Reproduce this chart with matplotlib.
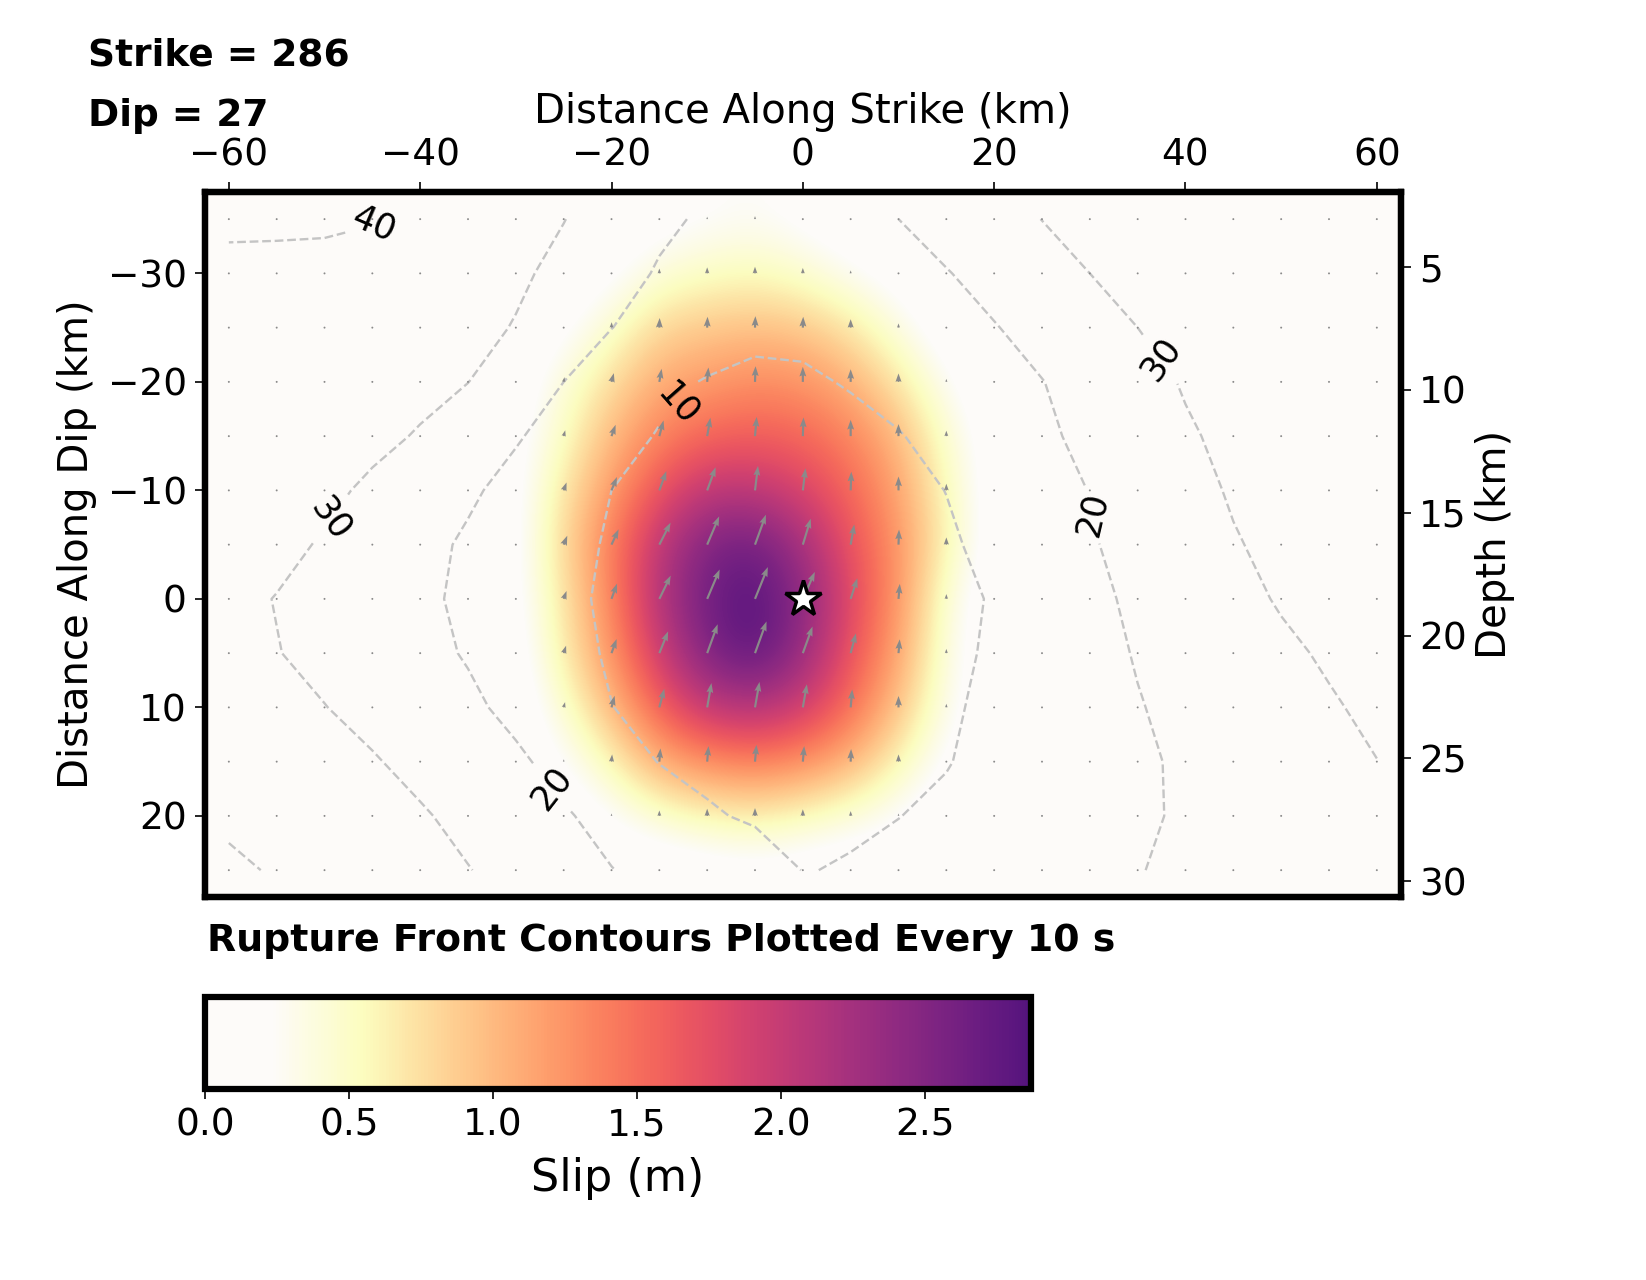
import numpy as np
import matplotlib
matplotlib.use('Agg')
import matplotlib.pyplot as plt
from matplotlib.colors import LinearSegmentedColormap

# fault geometry
strike = 286
dip = 27
along_strike = np.arange(-60, 61, 5)      # km, subfault centres
along_dip = np.arange(-35, 26, 5)         # km, subfault centres
depth_top, depth_bottom = 1.94, 30.65     # depth at the top / bottom edge of the fault
hypo = (0.0, 0.0)

# slip (m), rows = along dip (-35 .. 25), cols = along strike (-60 .. 60)
slip = np.array([
    [0, 0, 0, 0, 0, 0, 0, 0, 0.05, 0.12, 0.2, 0.25, 0.15, 0.05, 0, 0, 0, 0, 0, 0, 0, 0, 0, 0, 0],
    [0, 0, 0, 0, 0, 0, 0, 0.05, 0.15, 0.4, 0.5, 0.55, 0.45, 0.25, 0.1, 0, 0, 0, 0, 0, 0, 0, 0, 0, 0],
    [0, 0, 0, 0, 0, 0, 0, 0.15, 0.45, 0.8, 0.9, 0.95, 0.9, 0.7, 0.35, 0.05, 0, 0, 0, 0, 0, 0, 0, 0, 0],
    [0, 0, 0, 0, 0, 0, 0.05, 0.4, 0.75, 1.1, 1.2, 1.3, 1.25, 1.05, 0.7, 0.25, 0, 0, 0, 0, 0, 0, 0, 0, 0],
    [0, 0, 0, 0, 0, 0, 0.1, 0.5, 1.0, 1.35, 1.55, 1.6, 1.55, 1.35, 1.0, 0.45, 0.05, 0, 0, 0, 0, 0, 0, 0, 0],
    [0, 0, 0, 0, 0, 0, 0.1, 0.7, 1.2, 1.7, 2.05, 2.05, 1.85, 1.55, 1.15, 0.55, 0.05, 0, 0, 0, 0, 0, 0, 0, 0],
    [0, 0, 0, 0, 0, 0, 0.1, 0.8, 1.4, 2.05, 2.55, 2.65, 2.25, 1.7, 1.25, 0.6, 0.05, 0, 0, 0, 0, 0, 0, 0, 0],
    [0, 0, 0, 0, 0, 0, 0.1, 0.7, 1.35, 2.15, 2.65, 2.85, 2.45, 1.8, 1.25, 0.4, 0, 0, 0, 0, 0, 0, 0, 0, 0],
    [0, 0, 0, 0, 0, 0, 0.05, 0.65, 1.25, 1.95, 2.55, 2.8, 2.35, 1.7, 1.15, 0.35, 0, 0, 0, 0, 0, 0, 0, 0, 0],
    [0, 0, 0, 0, 0, 0, 0, 0.45, 1.0, 1.6, 2.05, 2.15, 1.95, 1.5, 0.95, 0.3, 0, 0, 0, 0, 0, 0, 0, 0, 0],
    [0, 0, 0, 0, 0, 0, 0, 0.2, 0.6, 1.1, 1.3, 1.4, 1.3, 1.05, 0.6, 0.15, 0, 0, 0, 0, 0, 0, 0, 0, 0],
    [0, 0, 0, 0, 0, 0, 0, 0, 0.2, 0.45, 0.6, 0.65, 0.55, 0.4, 0.2, 0, 0, 0, 0, 0, 0, 0, 0, 0, 0],
    [0, 0, 0, 0, 0, 0, 0, 0, 0, 0, 0.05, 0.1, 0.05, 0, 0, 0, 0, 0, 0, 0, 0, 0, 0, 0, 0],
])

# rake (deg)
rake = np.array([
    [90] * 25,
    [90] * 25,
    [90, 90, 90, 90, 90, 90, 90, 90, 88, 88, 88, 88, 88, 90, 90, 90, 90, 90, 90, 90, 90, 90, 90, 90, 90],
    [90, 90, 90, 90, 90, 90, 90, 80, 75, 80, 85, 88, 90, 90, 90, 90, 90, 90, 90, 90, 90, 90, 90, 90, 90],
    [90, 90, 90, 90, 90, 90, 90, 75, 70, 75, 80, 85, 88, 90, 90, 90, 90, 90, 90, 90, 90, 90, 90, 90, 90],
    [90, 90, 90, 90, 90, 90, 90, 70, 68, 70, 70, 83, 83, 88, 90, 90, 90, 90, 90, 90, 90, 90, 90, 90, 90],
    [90, 90, 90, 90, 90, 90, 90, 68, 65, 63, 67, 70, 73, 80, 88, 90, 90, 90, 90, 90, 90, 90, 90, 90, 90],
    [90, 90, 90, 90, 90, 90, 90, 70, 70, 64, 67, 68, 66, 72, 85, 90, 90, 90, 90, 90, 90, 90, 90, 90, 90],
    [90, 90, 90, 90, 90, 90, 90, 72, 70, 68, 70, 70, 70, 75, 85, 90, 90, 90, 90, 90, 90, 90, 90, 90, 90],
    [90, 90, 90, 90, 90, 90, 90, 75, 75, 75, 80, 80, 80, 85, 90, 90, 90, 90, 90, 90, 90, 90, 90, 90, 90],
    [90, 90, 90, 90, 90, 90, 90, 85, 85, 85, 85, 85, 85, 88, 90, 90, 90, 90, 90, 90, 90, 90, 90, 90, 90],
    [90] * 25,
    [90] * 25,
])

# rupture time (s)
rupture_time = np.array([
    [41.5, 41.0, 40.8, 40.2, 38.9, 36.0, 33.1, 30.2, 26.0, 21.5, 18.9, 17.2, 15.5, 17.7, 20.0, 23.4, 26.8, 30.1, 33.0, 35.5, 37.5, 39.0, 39.5, 39.8, 39.9],
    [38.0, 38.5, 38.5, 38.5, 37.5, 34.5, 31.5, 27.7, 23.1, 19.3, 17.2, 15.1, 13.0, 15.2, 17.4, 19.6, 22.9, 26.4, 30.0, 32.5, 34.5, 36.0, 37.0, 37.5, 38.0],
    [37.5, 37.5, 37.5, 37.0, 35.3, 32.7, 29.5, 24.8, 20.1, 17.2, 14.4, 11.6, 11.7, 13.7, 15.7, 17.7, 19.6, 22.9, 26.5, 30.0, 32.5, 34.5, 35.5, 36.0, 36.5],
    [37.0, 36.5, 36.0, 35.0, 32.5, 30.1, 25.0, 20.0, 16.0, 12.0, 9.5, 8.6, 9.0, 10.5, 12.8, 15.1, 17.5, 19.8, 23.2, 26.9, 30.7, 33.0, 34.5, 35.0, 35.5],
    [35.5, 35.0, 34.0, 32.2, 29.3, 25.0, 20.7, 16.8, 12.9, 9.5, 8.0, 7.0, 7.0, 8.0, 9.6, 12.5, 15.5, 18.6, 21.9, 25.5, 29.0, 32.0, 33.5, 34.0, 34.5],
    [34.5, 33.5, 32.0, 28.4, 24.8, 21.2, 17.5, 13.7, 10.0, 8.0, 6.0, 4.8, 4.7, 6.2, 8.0, 10.1, 13.5, 16.8, 20.2, 23.8, 27.3, 30.8, 32.5, 33.5, 34.0],
    [34.5, 32.5, 29.1, 25.7, 22.3, 18.9, 15.5, 12.1, 9.3, 7.3, 5.3, 3.3, 2.2, 4.0, 6.5, 9.0, 11.9, 15.6, 19.3, 22.7, 26.0, 29.4, 32.0, 33.5, 34.5],
    [32.5, 29.7, 27.0, 24.3, 21.5, 18.5, 15.1, 11.6, 8.8, 6.6, 4.4, 2.2, 0.0, 2.6, 5.2, 7.8, 10.6, 14.4, 18.1, 21.5, 24.6, 27.6, 30.7, 33.0, 34.5],
    [32.9, 30.3, 27.6, 24.9, 22.2, 19.4, 15.9, 12.4, 9.2, 7.2, 5.3, 3.5, 2.3, 3.6, 5.9, 8.2, 11.0, 14.2, 17.4, 20.5, 23.2, 25.8, 28.5, 31.0, 33.0],
    [35.0, 33.0, 30.2, 27.3, 24.4, 21.5, 18.0, 14.0, 10.1, 8.3, 6.8, 5.5, 4.6, 5.7, 7.3, 9.1, 11.4, 14.1, 16.9, 19.6, 22.0, 24.4, 26.8, 29.2, 31.6],
    [37.5, 35.5, 33.7, 30.7, 27.5, 24.4, 21.3, 17.4, 13.2, 9.8, 8.9, 7.9, 7.0, 7.8, 8.6, 9.7, 11.9, 14.2, 16.5, 18.8, 21.1, 23.3, 25.5, 27.7, 29.9],
    [39.0, 37.3, 35.5, 33.5, 30.9, 27.6, 24.2, 20.8, 17.4, 14.0, 10.5, 9.4, 9.2, 9.6, 9.9, 11.2, 13.1, 15.1, 17.0, 19.0, 20.8, 22.5, 24.3, 26.2, 28.0],
    [41.0, 39.5, 38.0, 36.0, 33.4, 30.3, 27.1, 23.6, 20.2, 17.6, 15.0, 12.4, 9.9, 10.2, 11.7, 13.3, 14.9, 16.5, 18.1, 19.7, 21.5, 23.0, 24.5, 25.8, 27.0],
])
contour_levels = [10, 20, 30, 40]
label_spots = [(-45.3, -35), (-51.5, -8.7), (-13.6, -18.4), (-26, 17.3), (30.3, -7.8), (36.9, -21.8)]

# white -> magma_r colormap
magma_r = plt.get_cmap('magma_r')
stops = [(0.0, '#fdfbf9'), (0.08, '#fdfbf9')]
for t in np.linspace(0, 0.74, 30):
    stops.append((0.19 + 0.81 * t / 0.74, magma_r(t)))
cmap = LinearSegmentedColormap.from_list('slip', stops)

plt.rcParams['font.family'] = 'DejaVu Sans'
fig = plt.figure(figsize=(16.46, 12.8), dpi=100)
ax = fig.add_axes([0.1245, 0.299, 0.7265, 0.551])

im = ax.imshow(slip, cmap=cmap, vmin=0, vmax=2.87, interpolation='bicubic',
               extent=(-62.5, 62.5, 27.5, -37.5), origin='upper', aspect='auto')

X, Y = np.meshgrid(along_strike, along_dip)
U = slip * np.cos(np.radians(rake))
V = slip * np.sin(np.radians(rake))
ax.quiver(X, Y, U, V, color='#8a8a8a', angles='uv', pivot='tail',
          scale_units='inches', scale=8.3, width=0.0018, headwidth=3.2, headlength=4.5,
          headaxislength=4, zorder=3)

cs = ax.contour(X, Y, rupture_time, levels=contour_levels, colors='#c4c4c4',
                linestyles='--', linewidths=1.7, zorder=2)
labels = ax.clabel(cs, fmt='%d', fontsize=25, colors='k', manual=label_spots,
                   inline=True, inline_spacing=8)
# labels on this (inverted) axis are drawn mirrored in the original
for lab in labels:
    lab.set_rotation(-lab.get_rotation())

ax.plot(hypo[0], hypo[1], marker='*', ms=27, mfc='white', mec='black', mew=2.5, zorder=5)

ax.set_xlim(-62.5, 62.5)
ax.set_ylim(27.5, -37.5)
ax.xaxis.tick_top()
ax.xaxis.set_label_position('top')
ax.set_xticks([-60, -40, -20, 0, 20, 40, 60])
ax.set_yticks([-30, -20, -10, 0, 10, 20])
ax.tick_params(labelsize=27, length=7, width=1.2, pad=6)
ax.set_xlabel('Distance Along Strike (km)', fontsize=29, labelpad=11)
ax.set_ylabel('Distance Along Dip (km)', fontsize=29, labelpad=8)
for s in ax.spines.values():
    s.set_linewidth(4.5)

ax2 = ax.twinx()
ax2.set_ylim(depth_bottom, depth_top)
ax2.set_yticks([5, 10, 15, 20, 25, 30])
ax2.tick_params(labelsize=27, length=7, width=1.2, pad=6)
ax2.set_ylabel('Depth (km)', fontsize=29, labelpad=6)
for s in ax2.spines.values():
    s.set_linewidth(4.5)

cax = fig.add_axes([0.1245, 0.149, 0.502, 0.072])
cb = fig.colorbar(im, cax=cax, orientation='horizontal')
cb.set_ticks([0, 0.5, 1.0, 1.5, 2.0, 2.5])
cb.ax.tick_params(labelsize=27, length=7, width=1.2, pad=6)
cb.set_label('Slip (m)', fontsize=32, labelpad=10)
cb.outline.set_linewidth(4.5)

fig.text(0.0535, 0.957, 'Strike = %d' % strike, fontsize=27, fontweight='bold', va='center')
fig.text(0.0535, 0.909, 'Dip = %d' % dip, fontsize=27, fontweight='bold', va='center')
fig.text(0.126, 0.265, 'Rupture Front Contours Plotted Every 10 s', fontsize=27.3,
         fontweight='bold', va='center')

fig.savefig('out.png', dpi=100)
